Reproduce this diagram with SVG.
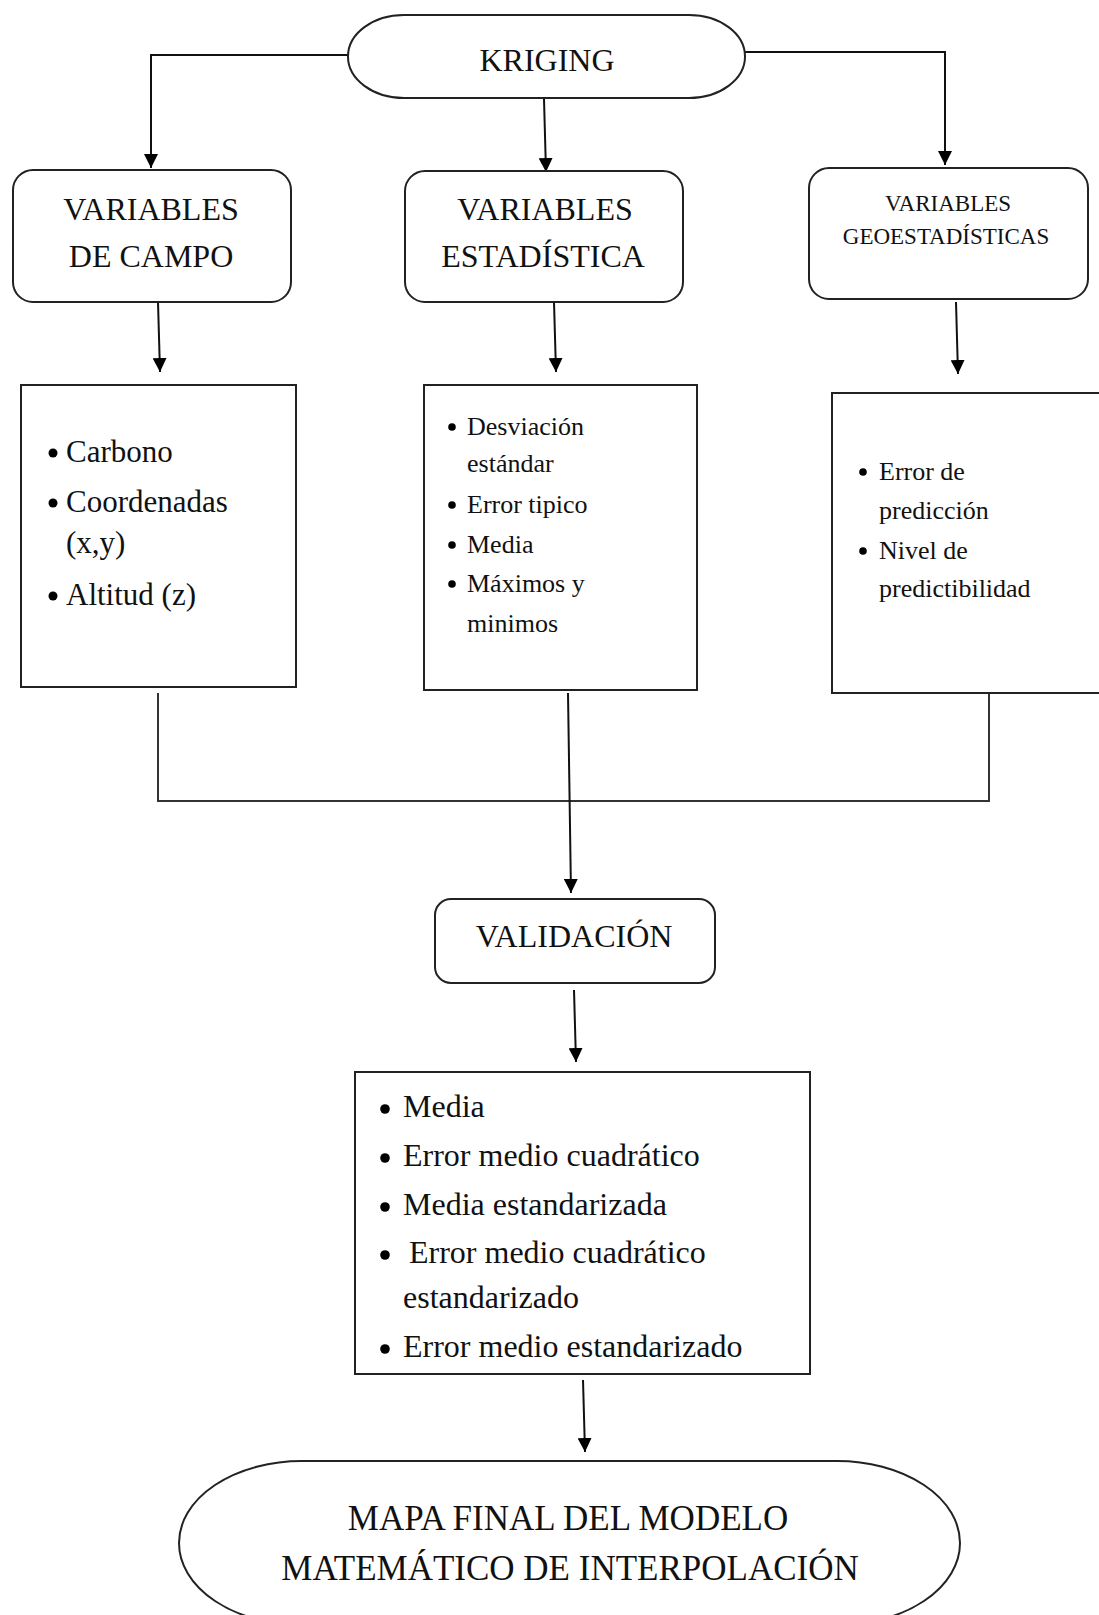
<svg xmlns="http://www.w3.org/2000/svg" width="1099" height="1615" viewBox="0 0 1099 1615">
<defs>
<marker id="arr" markerWidth="18" markerHeight="14" refX="14" refY="7" orient="auto" markerUnits="userSpaceOnUse">
<path d="M0,0 L14,7 L0,14 Z" fill="#000"/>
</marker>
</defs>
<style>
.box{fill:#fff;stroke:#222;stroke-width:2}
.t{font-family:"Liberation Serif","Times New Roman",serif;fill:#111}
.c{text-anchor:middle}
.ln{fill:none;stroke:#111;stroke-width:2}
.ln2{fill:none;stroke:#333;stroke-width:2}
.b{fill:#000}
</style>
<rect width="1099" height="1615" fill="#fff"/>
<g id="connectors">
<path class="ln" d="M348,55 L151,55 L151,168" marker-end="url(#arr)"/>
<path class="ln" d="M544,99 L546,172" marker-end="url(#arr)"/>
<path class="ln" d="M745,52 L945,52 L945,165" marker-end="url(#arr)"/>
<path class="ln" d="M158,302 L160,372" marker-end="url(#arr)"/>
<path class="ln" d="M554,302 L556,372" marker-end="url(#arr)"/>
<path class="ln" d="M956,302 L958,374" marker-end="url(#arr)"/>
<path class="ln2" d="M158,693 L158,801 L989,801 L989,694"/>
<path class="ln" d="M568,693 L571,893" marker-end="url(#arr)"/>
<path class="ln" d="M574,990 L576,1062" marker-end="url(#arr)"/>
<path class="ln" d="M583,1380 L585,1452" marker-end="url(#arr)"/>
</g>
<g id="kriging">
<rect class="box" x="348" y="15" width="397" height="83" rx="56" ry="41.5"/>
<text class="t c" x="547" y="71" font-size="32">KRIGING</text>
</g>
<g id="var-campo">
<rect class="box" x="13" y="170" width="278" height="132" rx="20"/>
<text class="t c" x="151" y="220" font-size="32">VARIABLES</text>
<text class="t c" x="151" y="267" font-size="32">DE CAMPO</text>
</g>
<g id="var-estadistica">
<rect class="box" x="405" y="171" width="278" height="131" rx="20"/>
<text class="t c" x="545" y="220" font-size="32">VARIABLES</text>
<text class="t c" x="543" y="267" font-size="32">ESTADÍSTICA</text>
</g>
<g id="var-geo">
<rect class="box" x="809" y="168" width="279" height="131" rx="20"/>
<text class="t c" x="948" y="211" font-size="23">VARIABLES</text>
<text class="t c" x="946" y="244" font-size="23">GEOESTADÍSTICAS</text>
</g>
<g id="list-campo">
<rect class="box" x="21" y="385" width="275" height="302"/>
<circle class="b" cx="53" cy="453" r="4.5"/>
<circle class="b" cx="53" cy="503" r="4.5"/>
<circle class="b" cx="53" cy="596" r="4.5"/>
<g class="t" font-size="31">
<text x="66" y="462">Carbono</text>
<text x="66" y="512">Coordenadas</text>
<text x="66" y="553">(x,y)</text>
<text x="66" y="605">Altitud (z)</text>
</g>
</g>
<g id="list-estadistica">
<rect class="box" x="424" y="385" width="273" height="305"/>
<circle class="b" cx="452" cy="427" r="3.8"/>
<circle class="b" cx="452" cy="505" r="3.8"/>
<circle class="b" cx="452" cy="545" r="3.8"/>
<circle class="b" cx="452" cy="584" r="3.8"/>
<g class="t" font-size="26">
<text x="467" y="435">Desviación</text>
<text x="467" y="472">estándar</text>
<text x="467" y="513">Error tipico</text>
<text x="467" y="553">Media</text>
<text x="467" y="592">Máximos y</text>
<text x="467" y="632">minimos</text>
</g>
</g>
<g id="list-geo">
<rect class="box" x="832" y="393" width="280" height="300"/>
<circle class="b" cx="863" cy="472" r="3.8"/>
<circle class="b" cx="863" cy="551" r="3.8"/>
<g class="t" font-size="26">
<text x="879" y="480">Error de</text>
<text x="879" y="519">predicción</text>
<text x="879" y="559">Nivel de</text>
<text x="879" y="597">predictibilidad</text>
</g>
</g>
<g id="validacion">
<rect class="box" x="435" y="899" width="280" height="84" rx="16"/>
<text class="t c" x="574" y="947" font-size="32">VALIDACIÓN</text>
</g>
<g id="list-validacion">
<rect class="box" x="355" y="1072" width="455" height="302"/>
<circle class="b" cx="385" cy="1109" r="4.8"/>
<circle class="b" cx="385" cy="1158" r="4.8"/>
<circle class="b" cx="385" cy="1207" r="4.8"/>
<circle class="b" cx="385" cy="1255" r="4.8"/>
<circle class="b" cx="385" cy="1349" r="4.8"/>
<g class="t" font-size="32">
<text x="403" y="1117">Media</text>
<text x="403" y="1166">Error medio cuadrático</text>
<text x="403" y="1215">Media estandarizada</text>
<text x="409" y="1263">Error medio cuadrático</text>
<text x="403" y="1308">estandarizado</text>
<text x="403" y="1357">Error medio estandarizado</text>
</g>
</g>
<g id="mapa-final">
<rect class="box" x="179" y="1461" width="781" height="164" rx="123" ry="82"/>
<text class="t c" x="568" y="1530" font-size="35">MAPA FINAL DEL MODELO</text>
<text class="t c" x="570" y="1580" font-size="35">MATEMÁTICO DE INTERPOLACIÓN</text>
</g>
</svg>
